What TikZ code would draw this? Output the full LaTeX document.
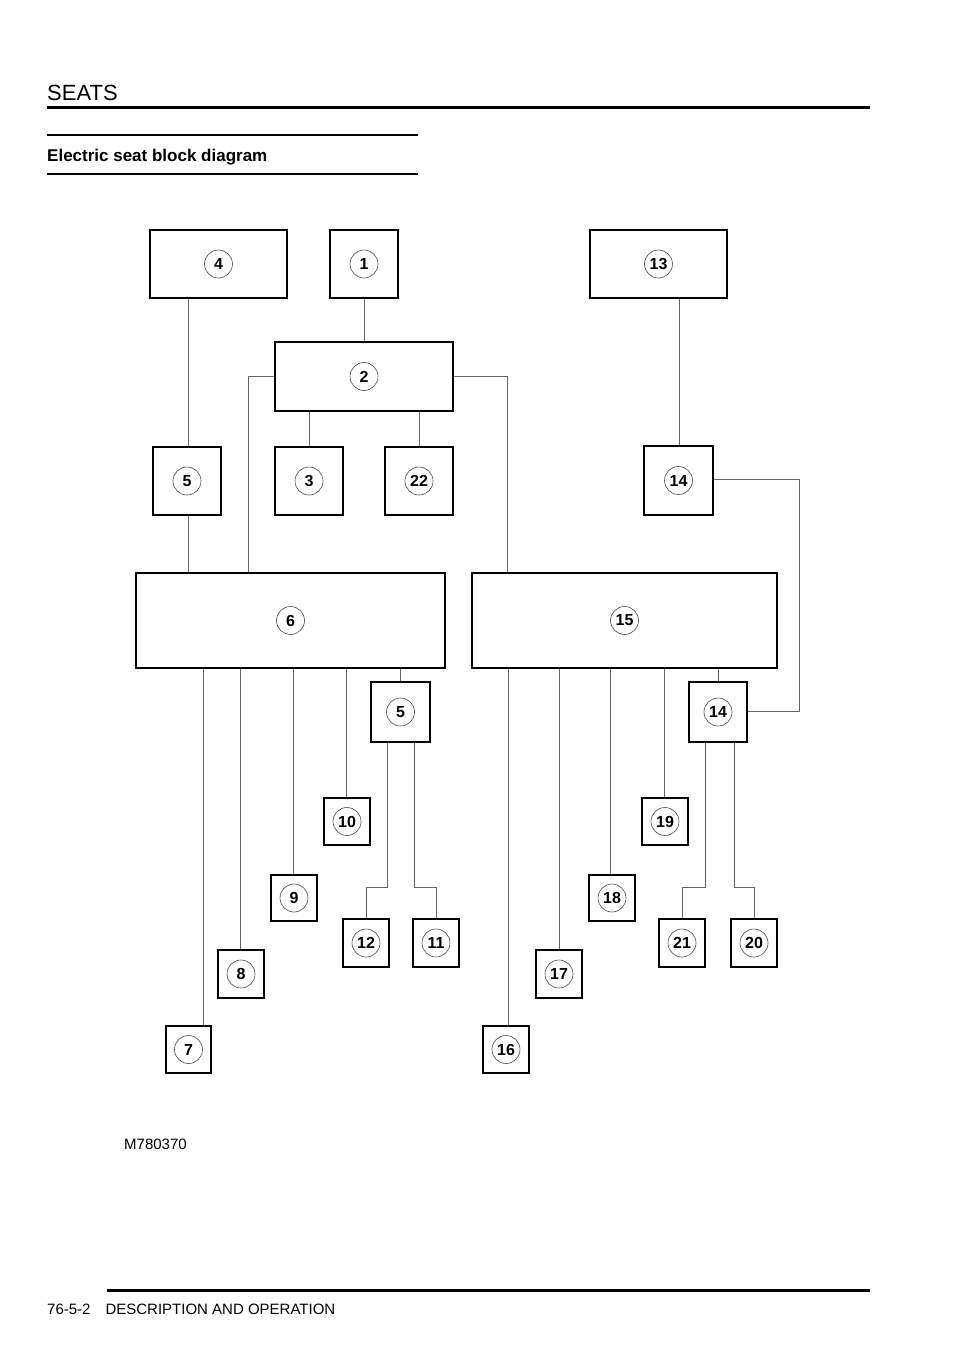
\documentclass[tikz,border=0pt]{standalone}
\usepackage{fontspec}
\setmainfont{Liberation Sans}
\begin{document}
\begin{tikzpicture}[x=1pt,y=-1pt,
  blk/.style={draw=black,line width=1.6pt},
  wire/.style={draw=black!60,line width=0.8pt},
  num/.style={circle,draw=black!70,line width=0.6pt,minimum size=28pt,inner sep=0pt,font=\bfseries\fontsize{16}{16}\selectfont}]
\useasboundingbox (0,0) rectangle (960,1358);
\node[anchor=base west,inner sep=0pt,font=\fontsize{22}{22}\selectfont] (hdr) at (47,100) {SEATS};
\draw[line width=3pt] (47,107) -- (870,107);
\draw[line width=2pt] (47,135) -- (418,135);
\draw[line width=2pt] (47,174) -- (418,174);
\node[anchor=base west,inner sep=0pt,font=\bfseries\fontsize{17}{17}\selectfont] (ttl) at (47,161) {Electric seat block diagram};
\draw[line width=3pt] (107,1290) -- (870,1290);
\node[anchor=base west,inner sep=0pt,font=\fontsize{15}{15}\selectfont] (ftr) at (47,1314) {76-5-2\quad DESCRIPTION AND OPERATION};
\node[anchor=base west,inner sep=0pt,font=\fontsize{15}{15}\selectfont] (mref) at (124,1149) {M780370};
\foreach \n/\a/\b/\c/\d/\t in {
 b4/150/230/287/298/4, b1/330/230/398/298/1, b13/590/230/727/298/13,
 b2/275/342/453/411/2, b5a/153/447/221/515/5, b3/275/447/343/515/3,
 b22/385/447/453/515/22, b14a/644/446/713/515/14, b6/136/573/445/668/6,
 b15/472/573/777/668/15, b5b/371/682/430/742/5, b14b/689/682/747/742/14,
 b10/324/798/370/845/10, b19/642/798/688/845/19, b9/271/875/317/921/9,
 b18/589/875/635/921/18, b12/343/919/389/967/12, b11/413/919/459/967/11,
 b21/659/919/705/967/21, b20/731/919/777/967/20, b8/218/950/264/998/8,
 b17/536/950/582/998/17, b7/166/1026/211/1073/7, b16/483/1026/529/1073/16}
 {\node[blk,minimum width={\c-\a},minimum height={\d-\b},inner sep=0pt] (\n) at ({(\a+\c)/2},{(\b+\d)/2}) {};
  \node[num] (l\n) at (\n) {\t};}
\draw[wire] (b4.south -| 188,0) -- (b5a.north -| 188,0);
\draw[wire] (b5a.south -| 188,0) -- (b6.north -| 188,0);
\draw[wire] (b1.south -| 364,0) -- (b2.north -| 364,0);
\draw[wire] (b2.west |- 0,376) -| (b6.north -| 248,0);
\draw[wire] (b2.east |- 0,376) -| (b15.north -| 507,0);
\draw[wire] (b2.south -| 309,0) -- (b3.north -| 309,0);
\draw[wire] (b2.south -| 419,0) -- (b22.north -| 419,0);
\draw[wire] (b13.south -| 679,0) -- (b14a.north -| 679,0);
\draw[wire] (b14a.east |- 0,479) -- (799,479) -- (799,711) -- (b14b.east |- 0,711);
\draw[wire] (b6.south -| 203,0) -- (b7.north -| 203,0);
\draw[wire] (b6.south -| 240,0) -- (b8.north -| 240,0);
\draw[wire] (b6.south -| 293,0) -- (b9.north -| 293,0);
\draw[wire] (b6.south -| 346,0) -- (b10.north -| 346,0);
\draw[wire] (b6.south -| 400,0) -- (b5b.north -| 400,0);
\draw[wire] (b5b.south -| 387,0) -- (387,887) -- (366,887) -- (b12.north -| 366,0);
\draw[wire] (b5b.south -| 414,0) -- (414,887) -- (436,887) -- (b11.north -| 436,0);
\draw[wire] (b15.south -| 508,0) -- (b16.north -| 508,0);
\draw[wire] (b15.south -| 559,0) -- (b17.north -| 559,0);
\draw[wire] (b15.south -| 610,0) -- (b18.north -| 610,0);
\draw[wire] (b15.south -| 664,0) -- (b19.north -| 664,0);
\draw[wire] (b15.south -| 718,0) -- (b14b.north -| 718,0);
\draw[wire] (b14b.south -| 705,0) -- (705,887) -- (682,887) -- (b21.north -| 682,0);
\draw[wire] (b14b.south -| 734,0) -- (734,887) -- (754,887) -- (b20.north -| 754,0);
\end{tikzpicture}
\end{document}
